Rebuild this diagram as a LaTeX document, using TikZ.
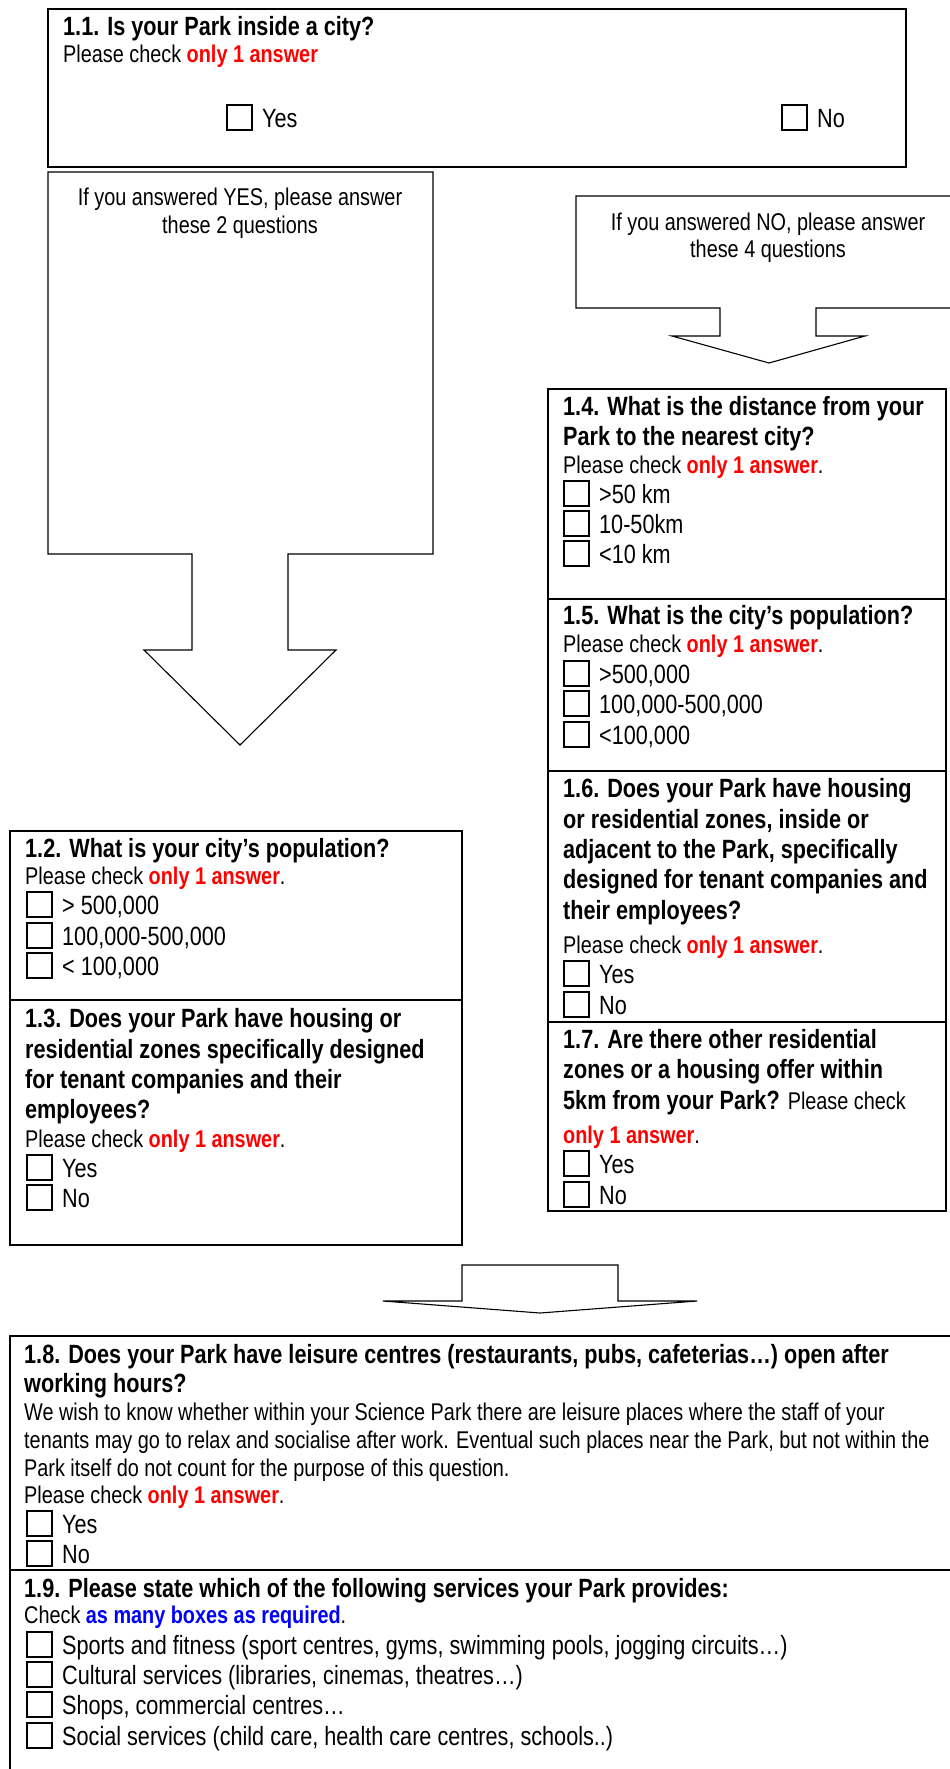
\documentclass[tikz,border=0pt]{standalone}
\usepackage{fontspec}
\setmainfont{Liberation Sans}[FakeStretch=0.82]
\definecolor{ansred}{RGB}{255,0,0}
\definecolor{ansblue}{RGB}{0,0,255}
\newcommand{\QBig}{\fontsize{26.4}{30}\selectfont}
\newcommand{\QSmall}{\fontsize{24.2}{28}\selectfont}
\newcommand{\OnlyOne}{\textcolor{ansred}{\bfseries only 1 answer}}
% checkbox followed by its answer text: name, x, baseline, text
\newcommand{\OptRow}[4]{%
  \node[chk] (#1box) at (#2,#3+3) {};
  \node[qopt] (#1) at (#2+35,#3) {#4};}
\tikzset{
  qframe/.style={draw, line width=1.5pt},
  blockarrow/.style={draw, line width=1.1pt, fill=white, line join=miter},
  chk/.style={draw, line width=1.1pt, minimum width=25pt, minimum height=25pt,
    inner sep=0pt, outer sep=0pt, anchor=south west},
  qtitle/.style={anchor=base west, inner sep=0pt, font=\QBig\bfseries},
  qnote/.style={anchor=base west, inner sep=0pt, font=\QSmall},
  qopt/.style={anchor=base west, inner sep=0pt, font=\QBig},
  hint/.style={anchor=base, inner sep=0pt, font=\QSmall},
}
\begin{document}
\begin{tikzpicture}[x=1pt,y=-1pt]
\useasboundingbox (0,0) rectangle (950,1769);
\clip (0,0) rectangle (950,1769);

% ---- Question 1.1
\draw[qframe] (48,9) rectangle (906,167);
\node[qtitle] (q11) at (63,36) {1.1. Is your Park inside a city?};
\node[qnote] (q11n) at (63,63) {Please check \OnlyOne};
\OptRow{q11yes}{227}{127}{Yes}
\OptRow{q11no}{782}{127}{No}

% ---- branch arrow for YES
\draw[blockarrow] (48,172) -- (433,172) -- (433,554) -- (288,554) -- (288,650)
  -- (336,650) -- (240,745) -- (144,650) -- (192,650) -- (192,554) -- (48,554) -- cycle;
\node[hint] (yesA) at (240,205) {If you answered YES, please answer};
\node[hint] (yesB) at (240,233) {these 2 questions};

% ---- branch arrow for NO
\draw[blockarrow] (576,196) -- (960,196) -- (960,308) -- (816,308) -- (816,336)
  -- (865,336) -- (769,363) -- (672,336) -- (720,336) -- (720,308) -- (576,308) -- cycle;
\node[hint] (noA) at (768,230) {If you answered NO, please answer};
\node[hint] (noB) at (768,257) {these 4 questions};

% ---- Questions 1.4 to 1.7
\draw[qframe] (548,389) rectangle (946,1211);
\draw[qframe] (548,599) -- (946,599);
\draw[qframe] (548,771) -- (946,771);
\draw[qframe] (548,1022) -- (946,1022);

\node[qtitle] (q14a) at (563,415) {1.4. What is the distance from your};
\node[qtitle] (q14b) at (563,445) {Park to the nearest city?};
\node[qnote] (q14n) at (563,473) {Please check \OnlyOne.};
\OptRow{q14o1}{564}{503}{>50 km}
\OptRow{q14o2}{564}{533}{10-50km}
\OptRow{q14o3}{564}{563}{<10 km}

\node[qtitle] (q15a) at (563,624) {1.5. What is the city’s population?};
\node[qnote] (q15n) at (563,652) {Please check \OnlyOne.};
\OptRow{q15o1}{564}{683}{>500,000}
\OptRow{q15o2}{564}{713}{100,000-500,000}
\OptRow{q15o3}{564}{744}{<100,000}

\node[qtitle] (q16a) at (563,797) {1.6. Does your Park have housing};
\node[qtitle] (q16b) at (563,828) {or residential zones, inside or};
\node[qtitle] (q16c) at (563,858) {adjacent to the Park, specifically};
\node[qtitle] (q16d) at (563,888) {designed for tenant companies and};
\node[qtitle] (q16e) at (563,919) {their employees?};
\node[qnote] (q16n) at (563,953) {Please check \OnlyOne.};
\OptRow{q16yes}{564}{983}{Yes}
\OptRow{q16no}{564}{1014}{No}

\node[qtitle] (q17a) at (563,1048) {1.7. Are there other residential};
\node[qtitle] (q17b) at (563,1078) {zones or a housing offer within};
\node[qtitle] (q17c) at (563,1109) {5km from your Park? {\QSmall\mdseries Please check}};
\node[qnote] (q17n) at (563,1143) {\OnlyOne.};
\OptRow{q17yes}{564}{1173}{Yes}
\OptRow{q17no}{564}{1204}{No}

% ---- Questions 1.2 and 1.3
\draw[qframe] (10,831) rectangle (462,1245);
\draw[qframe] (10,1000) -- (462,1000);

\node[qtitle] (q12a) at (25,857) {1.2. What is your city’s population?};
\node[qnote] (q12n) at (25,884) {Please check \OnlyOne.};
\OptRow{q12o1}{27}{914}{> 500,000}
\OptRow{q12o2}{27}{945}{100,000-500,000}
\OptRow{q12o3}{27}{975}{< 100,000}

\node[qtitle] (q13a) at (25,1027) {1.3. Does your Park have housing or};
\node[qtitle] (q13b) at (25,1058) {residential zones specifically designed};
\node[qtitle] (q13c) at (25,1088) {for tenant companies and their};
\node[qtitle] (q13d) at (25,1118) {employees?};
\node[qnote] (q13n) at (25,1147) {Please check \OnlyOne.};
\OptRow{q13yes}{27}{1177}{Yes}
\OptRow{q13no}{27}{1207}{No}

% ---- joining arrow
\draw[blockarrow] (462,1265) -- (618,1265) -- (618,1301) -- (697,1301)
  -- (540,1313) -- (383,1301) -- (462,1301) -- cycle;

% ---- Questions 1.8 and 1.9
\draw[qframe] (10,1336) rectangle (962,1790);
\draw[qframe] (10,1570) -- (962,1570);

\node[qtitle] (q18a) at (24,1363) {1.8. Does your Park have leisure centres (restaurants, pubs, cafeterias…) open after};
\node[qtitle] (q18b) at (24,1392) {working hours?};
\node[qnote] (q18c) at (24,1420) {We wish to know whether within your Science Park there are leisure places where the staff of your};
\node[qnote] (q18d) at (24,1448) {tenants may go to relax and socialise after work. Eventual such places near the Park, but not within the};
\node[qnote] (q18e) at (24,1476) {Park itself do not count for the purpose of this question.};
\node[qnote] (q18n) at (24,1503) {Please check \OnlyOne.};
\OptRow{q18yes}{27}{1533}{Yes}
\OptRow{q18no}{27}{1563}{No}

\node[qtitle] (q19a) at (24,1597) {1.9. Please state which of the following services your Park provides:};
\node[qnote] (q19n) at (24,1623) {Check \textcolor{ansblue}{\bfseries as many boxes as required}.};
\OptRow{q19o1}{27}{1654}{Sports and fitness (sport centres, gyms, swimming pools, jogging circuits…)}
\OptRow{q19o2}{27}{1684}{Cultural services (libraries, cinemas, theatres…)}
\OptRow{q19o3}{27}{1714}{Shops, commercial centres…}
\OptRow{q19o4}{27}{1745}{Social services (child care, health care centres, schools..)}
\end{tikzpicture}
\end{document}
